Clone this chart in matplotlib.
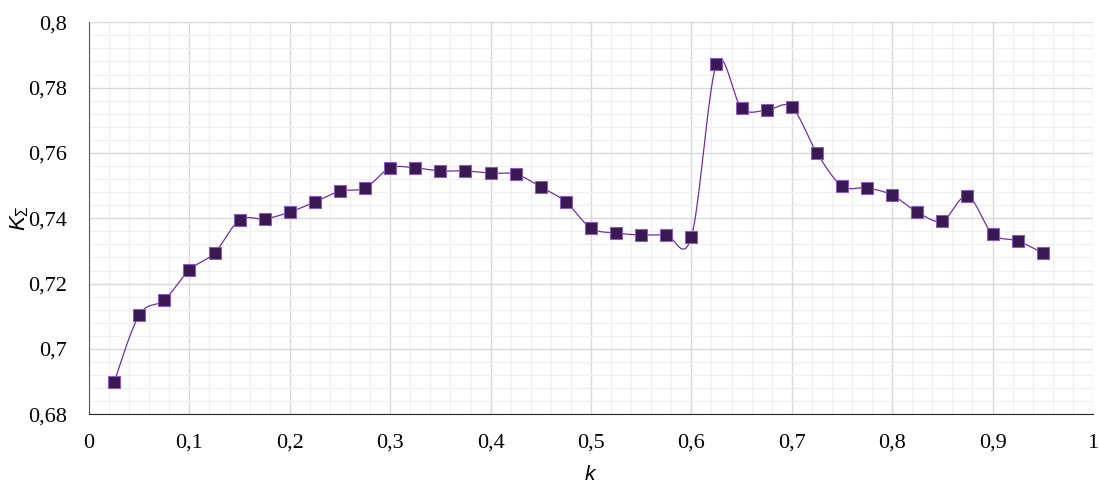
import matplotlib
matplotlib.use('Agg')
import matplotlib.pyplot as plt
from matplotlib.ticker import MultipleLocator, FuncFormatter
import numpy as np

# data
k_vals = [0.025, 0.05, 0.075, 0.1, 0.125, 0.15, 0.175, 0.2, 0.225, 0.25,
          0.275, 0.3, 0.325, 0.35, 0.375, 0.4, 0.425, 0.45, 0.475, 0.5,
          0.525, 0.55, 0.575, 0.6, 0.625, 0.65, 0.675, 0.7, 0.725, 0.75,
          0.775, 0.8, 0.825, 0.85, 0.875, 0.9, 0.925, 0.95]
K_sum = [0.6899, 0.7104, 0.7150, 0.7242, 0.7294, 0.7395, 0.7398, 0.7419, 0.7450, 0.7483,
         0.7493, 0.7554, 0.7554, 0.7545, 0.7545, 0.7538, 0.7535, 0.7496, 0.7450, 0.7370,
         0.7355, 0.7349, 0.7349, 0.7343, 0.7872, 0.7737, 0.7731, 0.7740, 0.7600, 0.7499,
         0.7493, 0.7471, 0.7419, 0.7392, 0.7468, 0.7352, 0.7331, 0.7294]


def smooth(x, y, n=20):
    # Catmull-Rom style smoothing like a spreadsheet "smoothed line"
    x = np.asarray(x); y = np.asarray(y)
    px = np.concatenate([[x[0]], x, [x[-1]]])
    py = np.concatenate([[y[0]], y, [y[-1]]])
    xs, ys = [], []
    t = np.linspace(0, 1, n, endpoint=False)
    for i in range(1, len(px) - 2):
        p0x, p1x, p2x, p3x = px[i-1], px[i], px[i+1], px[i+2]
        p0y, p1y, p2y, p3y = py[i-1], py[i], py[i+1], py[i+2]
        c1x = p1x + (p2x - p0x) / 6; c1y = p1y + (p2y - p0y) / 6
        c2x = p2x - (p3x - p1x) / 6; c2y = p2y - (p3y - p1y) / 6
        b = lambda a, b_, c, d: (1-t)**3*a + 3*(1-t)**2*t*b_ + 3*(1-t)*t**2*c + t**3*d
        xs.append(b(p1x, c1x, c2x, p2x)); ys.append(b(p1y, c1y, c2y, p2y))
    xs.append([x[-1]]); ys.append([y[-1]])
    return np.concatenate(xs), np.concatenate(ys)


plt.rcParams['mathtext.fontset'] = 'custom'
plt.rcParams['mathtext.it'] = 'Liberation Sans:italic'
plt.rcParams['mathtext.rm'] = 'Liberation Sans'

fig = plt.figure(figsize=(10.99, 4.84), dpi=100)
ax = fig.add_axes([0.081, 0.144, 0.9135, 0.81])

sx, sy = smooth(k_vals, K_sum)
ax.plot(sx, sy, color='#7030A0', lw=0.9, zorder=3)
ax.plot(k_vals, K_sum, ls='none', marker='s', ms=8.5, mfc='#3A1852',
        mec='#8B5CBF', mew=0.8, zorder=4)

ax.set_xlim(0, 1)
ax.set_ylim(0.68, 0.8)
ax.xaxis.set_major_locator(MultipleLocator(0.1))
ax.xaxis.set_minor_locator(MultipleLocator(0.02))
ax.yaxis.set_major_locator(MultipleLocator(0.02))
ax.yaxis.set_minor_locator(MultipleLocator(0.004))

def fmt(v, pos):
    s = ('%.2f' % v).rstrip('0').rstrip('.')
    return s.replace('.', ',')

ax.xaxis.set_major_formatter(FuncFormatter(fmt))
ax.yaxis.set_major_formatter(FuncFormatter(fmt))

ax.grid(which='major', color='#D9D9D9', lw=1.0)
ax.grid(which='minor', color='#F0F0F0', lw=1.0)
ax.set_axisbelow(True)

for side in ['top', 'right']:
    ax.spines[side].set_visible(False)
ax.spines['left'].set_color('#595959')
ax.spines['bottom'].set_color('#262626')
ax.tick_params(axis='x', which='both', length=0, pad=14)
ax.tick_params(axis='y', which='both', length=0, pad=16)
for lab in ax.get_xticklabels() + ax.get_yticklabels():
    lab.set_fontfamily('Liberation Serif')
    lab.set_fontsize(16)

ax.set_xlabel('$k$', fontsize=15, labelpad=8)
ax.set_ylabel(r'$K_{\Sigma}$', fontsize=16, labelpad=-2)

fig.savefig('out.png', dpi=100)
